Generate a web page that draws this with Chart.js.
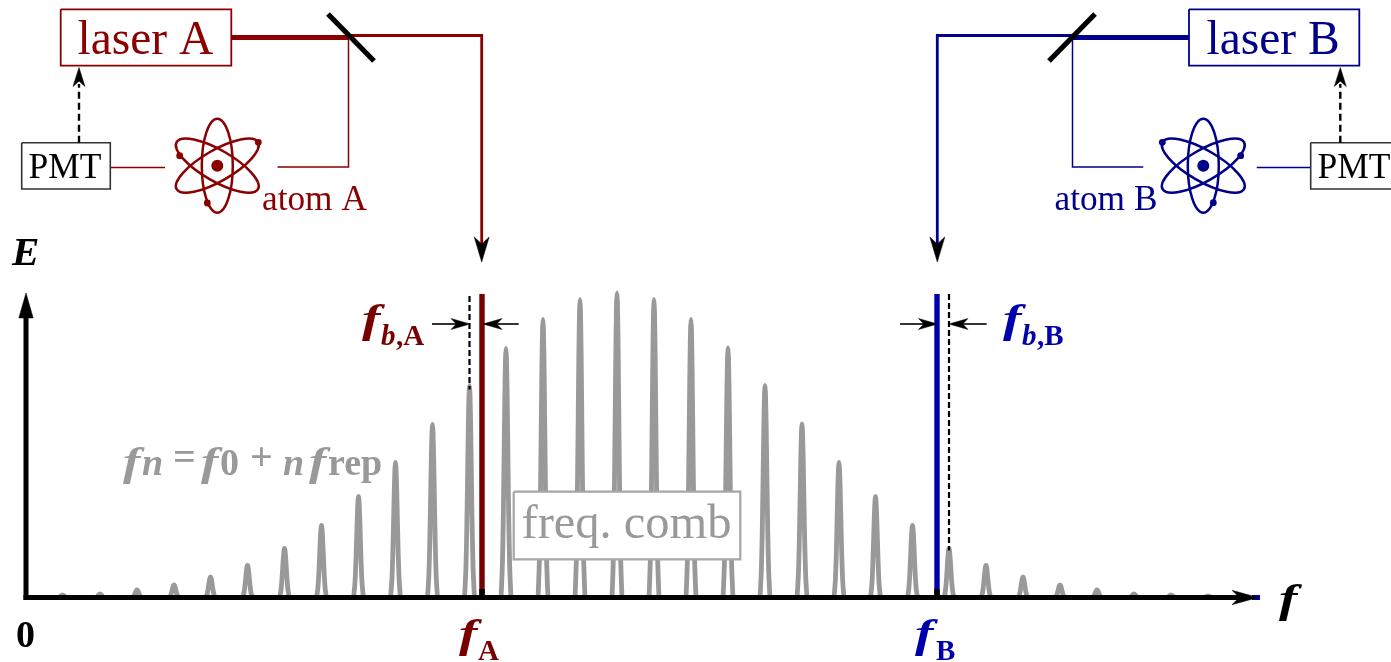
<!DOCTYPE html>
<html><head><meta charset="utf-8">
<style>html,body{margin:0;padding:0;background:#fff}canvas{display:block}</style>
<script src="https://cdn.jsdelivr.net/npm/chart.js@4/dist/chart.umd.min.js"></script>
</head><body><canvas id="c" width="1391" height="662"></canvas>
<script>
// ---- data (frequency, amplitude in axis units)
const combFreq = [37,74.5,111.5,148.5,185,222,259,296,333,370,407,444,480.5,517.5,554.5,591.5,628.5,665.5,702.5,739.5,776.5,813.5,850,887,923.5,960.5,997.5,1034.5,1071.5,1108.5,1145.5,1182.5];
const combAmp  = [2.5,3.5,7.5,12.5,20.5,32,49,72,101,135,173,212,249,278,298,304.5,298,278,249.5,212,173.5,135,101,72,49,32,20.5,12.5,7.5,3.5,2.5,1.5];
const toothOffset = [-5,-4.4,-3.6,-2.8,-2,-1.2,-0.5,0,0.5,1.2,2,2.8,3.6,4.4,5];
const toothShape  = [0,0.05,0.135,0.3,0.54,0.8,0.96,1,0.96,0.8,0.54,0.3,0.135,0.05,0];
const laserFreqA = 456.5, laserFreqB = 911.5, laserAmp = 303.5;
const beatToothA = 444, beatToothB = 923.5, beatTopA = 301.5, beatTopB = 303.5;
const AX0 = 25.5, AY0 = 597.5;
const RED='#8b0000', BLUE='#00008b', BARRED='#770000', BARBLUE='#0000aa', GREY='#999999', FRAME='#333333';

const P = ([x,y]) => ({x:x-AX0, y:AY0-y});     // sketch position -> axis units
const datasets = [];
function line(pts,color,width,extra){datasets.push(Object.assign({data:pts.map(P),borderColor:color,borderWidth:width,showLine:true,pointRadius:0,tension:0,fill:false,borderCapStyle:'butt',borderJoinStyle:'miter'},extra||{}));}
function poly(pts,color){datasets.push({data:pts.map(P),borderColor:color,backgroundColor:color,borderWidth:0.5,showLine:true,pointRadius:0,tension:0,fill:'shape'});}
function box(x0,y0,x1,y1,color,width,bg){datasets.push({data:[[x0,y0],[x1,y0],[x1,y1],[x0,y1],[x0,y0]].map(P),borderColor:color,backgroundColor:bg||'#fff',borderWidth:width,showLine:true,pointRadius:0,tension:0,fill:'shape',borderJoinStyle:'miter'});}
function head(x,y,dx,dy,len,hw,notch){ // barbed arrowhead, tip at x,y, direction dx,dy
  const nx=-dy,ny=dx,k=notch===undefined?0.72:notch;
  poly([[x,y],[x-dx*len+nx*hw,y-dy*len+ny*hw],[x-dx*len*k,y-dy*len*k],[x-dx*len-nx*hw,y-dy*len-ny*hw],[x,y]],'#000');
}
function dots(pts,color,r){datasets.push({data:pts.map(P),showLine:false,pointRadius:r,pointBackgroundColor:color,pointBorderWidth:0});}

// comb
const comb=[];
combFreq.forEach((f,i)=>{toothOffset.forEach((o,j)=>comb.push({x:f+o,y:combAmp[i]*toothShape[j]}));comb.push({x:f,y:null});});
datasets.push({data:comb,borderColor:GREY,borderWidth:4.8,showLine:true,pointRadius:0,tension:0.25,fill:false,borderJoinStyle:'round',borderCapStyle:'butt',spanGaps:false});

// beat-note dashes
line([[beatToothA+AX0,AY0-beatTopA],[beatToothA+AX0,AY0-212+4]],'#000',2.2,{borderDash:[6,3]});
line([[beatToothB+AX0,AY0-beatTopB],[beatToothB+AX0,AY0-49+2]],'#000',2.2,{borderDash:[6,3]});
// laser lines
line([[laserFreqA+AX0,AY0-laserAmp],[laserFreqA+AX0,AY0]],BARRED,5.4);
line([[laserFreqB+AX0,AY0-laserAmp],[laserFreqB+AX0,AY0]],BARBLUE,5.4);
line([[laserFreqA+AX0,589],[laserFreqA+AX0,AY0]],'#000',5.4);
line([[laserFreqB+AX0,589],[laserFreqB+AX0,AY0]],'#000',5.4);
// freq comb box
box(513.7,491.7,740.3,559.3,'#a6a6a6',2.2);
// axes
line([[1252,597.5],[1260,597.5]],BARBLUE,5);
line([[26,600],[26,310]],'#000',5);
line([[23.5,597.5],[1240,597.5]],'#000',5.2);
head(26,293,0,-1,25,7.2,1);
head(1258,597.5,1,0,26,7.2);
// beat arrows
line([[432,324],[460,324]],'#000',1.6); head(470,324,1,0,19,5.5);
line([[518.7,324],[492,324]],'#000',1.6); head(483,324,-1,0,19,5.5);
line([[900,324],[928,324]],'#000',1.6); head(937.5,324,1,0,19,5.5);
line([[986.7,324],[958,324]],'#000',1.6); head(949,324,-1,0,19,5.5);
// beams A
line([[231,37.5],[348,37.5]],RED,5.2);
line([[347,35.5],[481.7,35.5],[481.7,245]],RED,2.8);
head(481.7,262,0,1,25,7.5);
line([[348.5,36],[348.5,167],[277.5,167]],RED,1.5);
line([[110,167.5],[165,167.5]],RED,1.5);
line([[328,14],[374,61]],'#000',5.2);
// beams B
line([[1189,37.5],[1072,37.5]],BLUE,5.2);
line([[1073,35.5],[937.3,35.5],[937.3,245]],BLUE,2.8);
head(937.3,262,0,1,25,7.5);
line([[1072.5,36],[1072.5,167],[1143.3,167]],BLUE,1.5);
line([[1256.7,167.5],[1311,167.5]],BLUE,1.5);
line([[1095,14],[1049,61]],'#000',5.2);
// instrument boxes
box(60.7,9.3,231.3,65.7,RED,1.8);
box(1189,9.3,1359.3,65.7,BLUE,1.8);
box(21.7,142.7,110.3,189,FRAME,1.6);
box(1310.7,142.7,1400,189,FRAME,1.6);
// servo arrows
line([[79,142.7],[79,84]],'#000',2.4,{borderDash:[7,4]}); head(79,67.5,0,-1,19,6);
line([[1340.3,142.7],[1340.3,84]],'#000',2.4,{borderDash:[7,4]}); head(1340.3,67.5,0,-1,19,6);
// nuclei and electrons
dots([[217.3,165.7]],RED,6);
dots([[258.3,142.3],[179.7,155.7],[207.3,203]],RED,3.4);
dots([[1203.3,165.7]],BLUE,6);
dots([[1162.3,142.3],[1240.7,155.7],[1213.3,202.7]],BLUE,3.4);
datasets.forEach((d,i)=>{d.order=-i;d.clip=false;});

const SERIF='"Liberation Serif"';
const BI=s=>`italic bold ${s}px ${SERIF}`, B=s=>`bold ${s}px ${SERIF}`, R=s=>`${s}px ${SERIF}`;
const labels=[
 {c:RED,y:54,x:77.5,font:R(47.5),t:'laser A'},
 {c:BLUE,y:54,x:1206.5,font:R(47.5),t:'laser B'},
 {c:'#000',y:178,x:28.5,font:R(35.5),t:'PMT'},
 {c:'#000',y:178,x:1317.5,font:R(35.5),t:'PMT'},
 {c:RED,y:210,x:262,font:R(35.3),t:'atom A'},
 {c:BLUE,y:210,x:1054.5,font:R(35.3),t:'atom B'},
 {c:'#000',y:265,x:12,font:BI(41),t:'E'},
 {c:'#000',y:647,x:16,font:B(38),t:'0'},
 {c:'#000',y:612,x:1279,font:BI(41),t:'f',sx:1.35},
 {c:BARRED,y:647,x:459,font:BI(41),t:'f',sx:1.35},
 {c:BARRED,y:660,x:478,font:B(29),t:'A'},
 {c:BARBLUE,y:647,x:915,font:BI(41),t:'f',sx:1.35},
 {c:BARBLUE,y:660,x:936,font:B(29),t:'B'},
 {c:BARRED,y:332,x:362,font:BI(41),t:'f',sx:1.35},
 {c:BARRED,y:345,x:381,font:BI(29),t:'b'},
 {c:BARRED,y:345,x:396,font:B(29),t:',A'},
 {c:BARBLUE,y:332,x:1003,font:BI(41),t:'f',sx:1.35},
 {c:BARBLUE,y:345,x:1022,font:BI(29),t:'b'},
 {c:BARBLUE,y:345,x:1037,font:B(29),t:',B'},
 {c:GREY,y:475,x:123,font:BI(40),t:'f',sx:1.3},
 {c:GREY,y:475,x:142,font:BI(38),t:'n'},
 {c:GREY,y:470,x:173,font:B(40),t:'='},
 {c:GREY,y:475,x:201,font:BI(40),t:'f',sx:1.3},
 {c:GREY,y:475,x:220,font:B(38),t:'0'},
 {c:GREY,y:470,x:250,font:B(40),t:'+'},
 {c:GREY,y:475,x:283,font:BI(38),t:'n'},
 {c:GREY,y:475,x:309,font:BI(40),t:'f',sx:1.3},
 {c:GREY,y:475,x:328,font:B(38),t:'rep'},
 {c:GREY,y:537.7,x:521.5,font:R(48.5),t:'freq. comb'}
];
const atoms=[{x:217.3,y:165.7,c:RED},{x:1203.3,y:165.7,c:BLUE}];
const orbitTilt=[0,Math.PI/3,-Math.PI/3];

const diagram={id:'diagram',
 beforeDatasetsDraw(ch){
  const {ctx,scales:{x:sx,y:sy}}=ch;
  ctx.save();
  atoms.forEach(a=>{
   const cx=sx.getPixelForValue(a.x-AX0), cy=sy.getPixelForValue(AY0-a.y);
   ctx.strokeStyle=a.c;ctx.lineWidth=2.5;
   orbitTilt.forEach(t=>{ctx.beginPath();ctx.ellipse(cx,cy,15.5,47,t,0,Math.PI*2);ctx.stroke();});
  });
  ctx.restore();
 },
 afterDatasetsDraw(ch){
  const {ctx,scales:{x:sx,y:sy}}=ch;
  ctx.textBaseline='alphabetic';ctx.textAlign='left';
  labels.forEach(l=>{
   ctx.save();
   ctx.translate(sx.getPixelForValue(l.x-AX0),sy.getPixelForValue(AY0-l.y));
   if(l.sx)ctx.scale(l.sx,1);
   ctx.font=l.font;ctx.fillStyle=l.c;ctx.fillText(l.t,0,0);
   ctx.restore();
  });
 }};

new Chart(document.getElementById('c'),{
 type:'scatter',
 data:{datasets},
 options:{responsive:false,animation:false,events:[],
  layout:{padding:0,autoPadding:false},
  plugins:{legend:{display:false},tooltip:{enabled:false},title:{display:false}},
  scales:{
   x:{type:'linear',display:false,min:-AX0,max:1391-AX0},
   y:{type:'linear',display:false,min:AY0-662,max:AY0}
  }},
 plugins:[diagram]
});
</script></body></html>
